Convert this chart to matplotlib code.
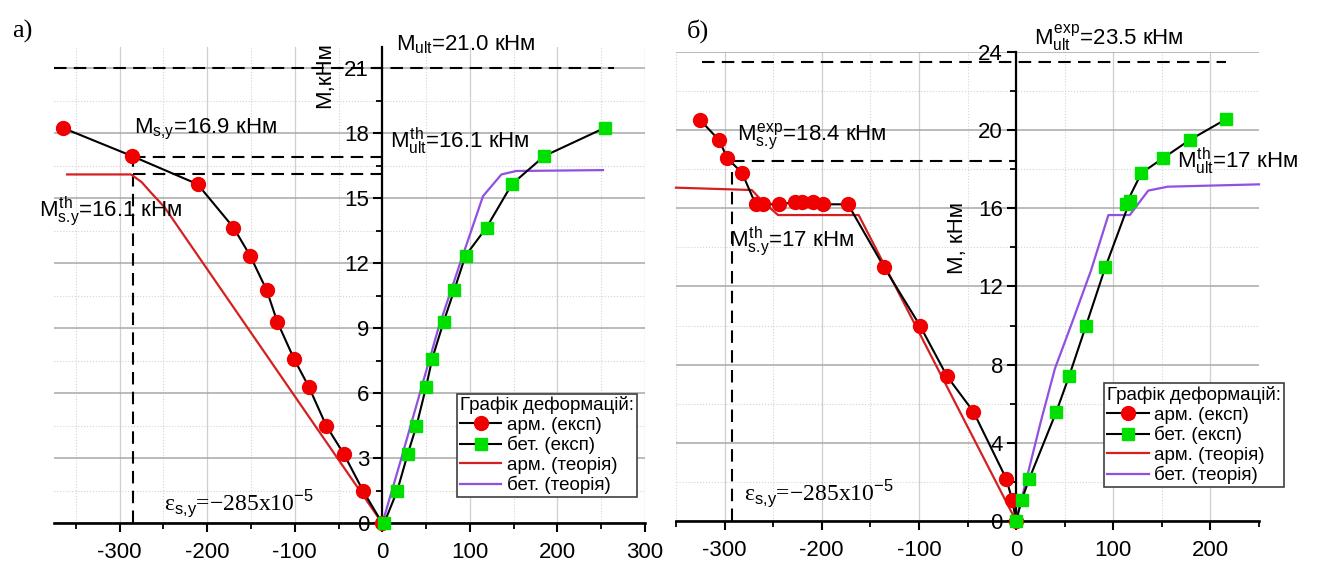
import numpy as np
import matplotlib
matplotlib.use("Agg")
import matplotlib.pyplot as plt
from matplotlib.ticker import MultipleLocator

plt.rcParams["font.family"] = ["Liberation Sans", "DejaVu Sans"]
plt.rcParams["axes.unicode_minus"] = False
plt.rcParams["mathtext.fontset"] = "custom"
plt.rcParams["mathtext.rm"] = "Liberation Sans"
plt.rcParams["mathtext.it"] = "Liberation Sans"
plt.rcParams["mathtext.bf"] = "Liberation Sans:bold"

# ---------------- а) ----------------
a_m_exp = [18.25, 16.95, 15.65, 13.65, 12.35, 10.75, 9.3, 7.6, 6.3, 4.5, 3.2, 1.5, 0]
a_arm_exp = [-365, -286, -211, -170, -151, -132, -120, -101, -84, -64, -44, -22, 0]
a_bet_exp = [254, 185, 148, 119, 95, 82, 70, 57, 50, 39, 29, 17, 2]
a_arm_th_x = [-360, -287, -275, -264, -249, 0]
a_arm_th_m = [16.1, 16.1, 15.75, 15.25, 14.6, 0]
a_bet_th_x = [0, 21, 64, 88, 115, 136, 153, 252]
a_bet_th_m = [0, 2.9, 9.0, 11.9, 15.1, 16.1, 16.26, 16.3]
a_m_ult = 21.0
a_m_sy = 16.9
a_m_sy_th = 16.1
a_eps_sy = -285

# ---------------- б) ----------------
b_arm_exp_x = [-325, -306, -297, -282, -268, -260, -244, -228, -220, -209, -199, -173,
               -136, -99, -71, -44, -10, -4, 0]
b_arm_exp_m = [20.5, 19.5, 18.55, 17.8, 16.2, 16.2, 16.2, 16.3, 16.3, 16.3, 16.2, 16.2,
               13.0, 10.0, 7.4, 5.6, 2.15, 1.07, 0]
b_bet_exp_x = [216, 179, 151, 129, 113, 117, 92, 72, 54.5, 41.5, 13.5, 5.7, 0]
b_bet_exp_m = [20.55, 19.5, 18.55, 17.8, 16.2, 16.35, 13.0, 10.0, 7.4, 5.6, 2.15, 1.07, 0]
b_arm_th_x = [-350, -272, -262, -245, -162, 0]
b_arm_th_m = [17.05, 16.93, 16.4, 15.65, 15.65, 0]
b_bet_th_x = [0, 12, 25, 40, 58, 77, 95, 117, 136, 156, 250]
b_bet_th_m = [0, 2.4, 5.0, 7.8, 10.2, 12.8, 15.65, 15.65, 16.9, 17.1, 17.22]
b_m_ult = 23.5
b_m_sy = 18.4
b_eps_sy = -292

RED = "#f00000"
GREEN = "#00e000"
RED_TH = "#d42020"
PURPLE = "#9050e0"
FS = 16
SERIF = ["Liberation Serif", "DejaVu Serif"]


def style_axes(ax, xlim, ylim, xmaj, xmin, ymaj, ymin):
    ax.set_xlim(*xlim)
    ax.set_ylim(*ylim)
    for s in ["top", "right"]:
        ax.spines[s].set_visible(False)
    ax.spines["left"].set_position(("data", 0))
    ax.spines["left"].set_linewidth(1.6)
    ax.spines["bottom"].set_linewidth(1.9)
    ax.xaxis.set_major_locator(MultipleLocator(xmaj))
    ax.xaxis.set_minor_locator(MultipleLocator(xmin))
    ax.yaxis.set_major_locator(MultipleLocator(ymaj))
    ax.yaxis.set_minor_locator(MultipleLocator(ymin))
    ax.tick_params(which="major", length=6.5, width=1.5, labelsize=FS, pad=7)
    ax.tick_params(which="minor", length=4, width=1.3)
    ax.tick_params(axis="y", pad=3)
    ax.grid(True, which="major", axis="y", color="#a8a8a8", lw=1.1)
    ax.grid(True, which="major", axis="x", color="#cfcfcf", lw=0.9)
    ax.grid(True, which="minor", color="#d4d4d4", lw=0.8, ls=":")
    ax.set_axisbelow(True)


def draw_series(ax, arm_x, arm_m, bet_x, bet_m, th_ax, th_am, th_bx, th_bm):
    ax.plot(th_ax, th_am, color=RED_TH, lw=1.6, zorder=3, label="арм. (теорія)", clip_on=False)
    ax.plot(th_bx, th_bm, color=PURPLE, lw=1.6, zorder=3, label="бет. (теорія)", clip_on=False)
    ax.plot(arm_x, arm_m, "-", color="black", lw=1.5, marker="o", ms=10,
            mfc=RED, mec=RED, zorder=4, label="арм. (експ)", clip_on=False)
    ax.plot(bet_x, bet_m, "-", color="black", lw=1.5, marker="s", ms=8.5,
            mfc=GREEN, mec=GREEN, zorder=4, label="бет. (експ)", clip_on=False)


def add_legend(ax, anchor):
    h, l = ax.get_legend_handles_labels()
    order = [2, 3, 0, 1]
    leg = ax.legend([h[i] for i in order], [l[i] for i in order],
                    title="Графік деформацій:", loc="lower right", bbox_to_anchor=anchor,
                    fontsize=13.5, title_fontsize=13.5, alignment="left",
                    frameon=True, fancybox=False, framealpha=1, edgecolor="#404040",
                    borderpad=0.15, labelspacing=0.12, handlelength=2.2,
                    handletextpad=0.3, borderaxespad=0)
    leg.get_frame().set_linewidth(1.2)
    leg.set_zorder(6)


dash = (0, (6, 3.5))
fig = plt.figure(figsize=(13.23, 5.65), dpi=100)

# ---- panel а)
axL = fig.add_axes([54 / 1323, (565 - 523.3) / 565, 591 / 1323, 476.7 / 565])
style_axes(axL, (-375, 300), (0, 22), 100, 50, 3, 1.5)
draw_series(axL, a_arm_exp, a_m_exp, a_bet_exp, a_m_exp,
            a_arm_th_x, a_arm_th_m, a_bet_th_x, a_bet_th_m)
axL.plot([-375, 265], [a_m_ult, a_m_ult], color="black", lw=1.5, ls=dash, zorder=2)
axL.plot([a_eps_sy, 0], [a_m_sy, a_m_sy], color="black", lw=1.5, ls=dash, zorder=2)
axL.plot([a_eps_sy, 0], [a_m_sy_th, a_m_sy_th], color="black", lw=1.5, ls=dash, zorder=2)
axL.plot([a_eps_sy, a_eps_sy], [0, a_m_sy], color="black", lw=1.5, ls=dash, zorder=2)
add_legend(axL, (0.986, 0.055))

axL.text(16, 21.81, r"$M_{ult}$=21.0 кНм", fontsize=FS)
axL.text(-284, 18.0, r"$M_{s{,}y}$=16.9 кНм", fontsize=FS)
axL.text(-392, 14.15, r"$M^{th}_{s.\!y}$=16.1 кНм", fontsize=FS)
axL.text(8.7, 17.3, r"$M^{th}_{ult}$=16.1 кНм", fontsize=FS)
axL.text(-249, 0.61, "ε$_{s{,}y}$=−285x10$^{-5}$", fontsize=17, family=SERIF)
axL.text(-65.5, 20.7, "M,кНм", fontsize=FS, rotation=90, ha="center", va="center")

# ---- panel б)
axR = fig.add_axes([676 / 1323, (565 - 521) / 565, 583 / 1323, 469.2 / 565])
style_axes(axR, (-350, 250), (0, 24), 100, 50, 4, 2)
draw_series(axR, b_arm_exp_x, b_arm_exp_m, b_bet_exp_x, b_bet_exp_m,
            b_arm_th_x, b_arm_th_m, b_bet_th_x, b_bet_th_m)
axR.plot([-323, 216], [b_m_ult, b_m_ult], color="black", lw=1.5, ls=dash, zorder=2)
axR.plot([b_eps_sy, 0], [b_m_sy, b_m_sy], color="black", lw=1.5, ls=dash, zorder=2)
axR.plot([b_eps_sy, b_eps_sy], [0, b_m_sy], color="black", lw=1.5, ls=dash, zorder=2)
add_legend(axR, (1.043, 0.0725))

axR.text(18.6, 24.35, r"$M^{exp}_{ult}$=23.5 кНм", fontsize=FS, clip_on=False)
axR.text(-287.6, 19.49, r"$M^{exp}_{s.\!y}$=18.4 кНм", fontsize=FS)
axR.text(-295, 14.07, r"$M^{th}_{s.\!y}$=17 кНм", fontsize=FS)
axR.text(165.7, 18.04, r"$M^{th}_{ult}$=17 кНм", fontsize=FS)
axR.text(-280.5, 1.07, "ε$_{s{,}y}$=−285x10$^{-5}$", fontsize=17, family=SERIF)
axR.text(-60.8, 14.5, "M, кНм", fontsize=FS, rotation=90, ha="center", va="center")

fig.text(12 / 1323, 1 - 38 / 565, "а)", fontsize=19, family=SERIF)
fig.text(687 / 1323, 1 - 38 / 565, "б)", fontsize=19, family=SERIF)

fig.savefig("out.png", dpi=100)
